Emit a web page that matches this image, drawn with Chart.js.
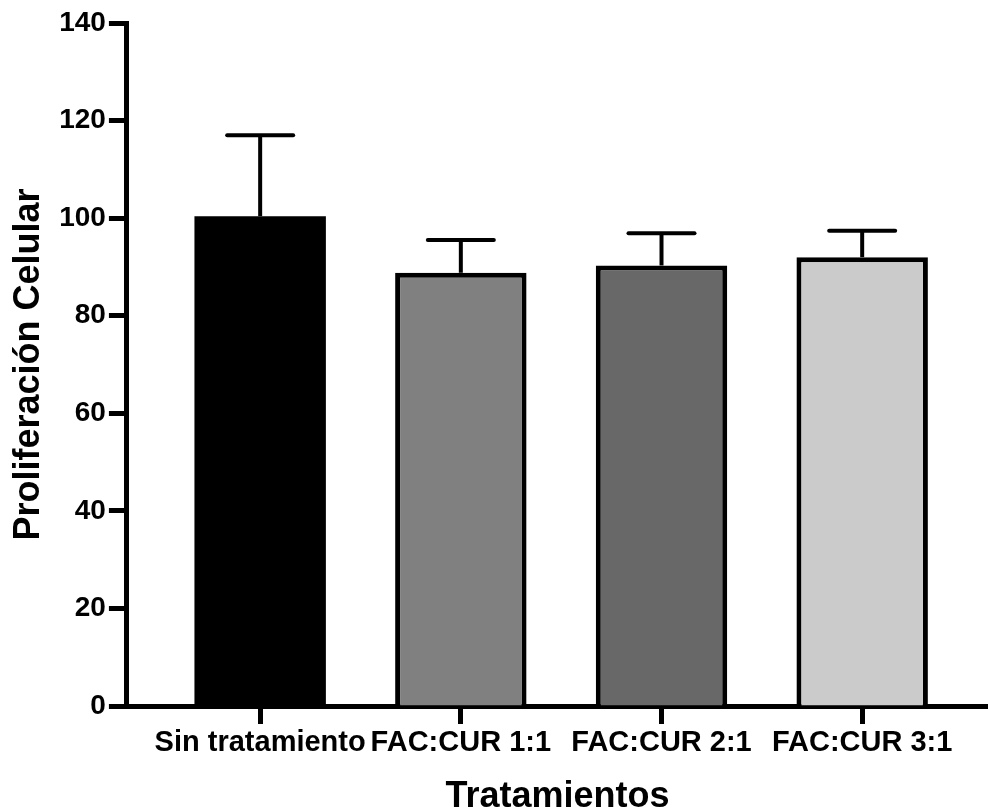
<!DOCTYPE html>
<html>
<head>
<meta charset="utf-8">
<script src="https://cdn.jsdelivr.net/npm/chart.js@4.4.1/dist/chart.umd.min.js"></script>
<style>
  html, body { margin: 0; padding: 0; background: #ffffff; }
  #wrap { width: 988px; height: 810px; }
</style>
</head>
<body>
<div id="wrap"><canvas id="c" width="988" height="810"></canvas></div>
<script>
// ---- data ----
const categories = ["Sin tratamiento", "FAC:CUR 1:1", "FAC:CUR 2:1", "FAC:CUR 3:1"];
const means = [100.4, 88.8, 90.3, 92.0];
const errors = [16.6, 6.7, 6.6, 5.4];
const yTicks = [0, 20, 40, 60, 80, 100, 120, 140];
const barColors = ["#000000", "#808080", "#686868", "#cbcbcb"];
const barBorders = [0, 5, 5, 5];

const FONT = "'Liberation Sans', Arial, Helvetica, sans-serif";

const errorBarPlugin = {
  id: 'errorBars',
  afterDatasetsDraw(chart) {
    const ctx = chart.ctx;
    const xs = chart.scales.x, ys = chart.scales.y;
    ctx.save();
    ctx.strokeStyle = '#000';
    ctx.lineWidth = 4;
    ctx.lineCap = 'butt';
    means.forEach((m, i) => {
      const x = xs.getPixelForValue(i);
      const yBase = ys.getPixelForValue(m);
      const yTop = ys.getPixelForValue(m + errors[i]);
      ctx.beginPath();
      ctx.moveTo(x, yBase);
      ctx.lineTo(x, yTop);
      ctx.stroke();
    });
    ctx.lineCap = 'round';
    means.forEach((m, i) => {
      const x = xs.getPixelForValue(i);
      const yTop = ys.getPixelForValue(m + errors[i]);
      ctx.beginPath();
      ctx.moveTo(x - 33, yTop);
      ctx.lineTo(x + 33, yTop);
      ctx.stroke();
    });
    ctx.restore();
  }
};

new Chart(document.getElementById('c'), {
  type: 'bar',
  data: {
    datasets: [{
      data: means.map((m, i) => ({ x: i, y: m })),
      backgroundColor: barColors,
      borderColor: '#000000',
      borderWidth: barBorders,
      categoryPercentage: 1,
      barPercentage: 0.655
    }]
  },
  options: {
    responsive: false,
    animation: false,
    layout: { padding: { top: 23, right: 0, left: 0, bottom: 0 } },
    plugins: { legend: { display: false }, tooltip: { enabled: false } },
    scales: {
      x: {
        type: 'linear',
        offset: false,
        min: -0.664,
        max: 3.627,
        afterBuildTicks: (s) => { s.ticks = categories.map((_, i) => ({ value: i })); },
        grid: { display: true, offset: false, drawOnChartArea: false, drawTicks: true, tickLength: 18, tickWidth: 5, tickColor: '#000' },
        border: { display: true, width: 5, color: '#000' },
        ticks: {
          autoSkip: false, maxRotation: 0, minRotation: 0, padding: 2,
          color: '#000',
          font: { family: FONT, size: 29, weight: 'bold' },
          callback: (v) => categories[v]
        },
        title: {
          display: true, text: 'Tratamientos', color: '#000',
          font: { family: FONT, size: 36, weight: 'bold', lineHeight: 0.7 },
          padding: { top: 22, bottom: 0 }
        }
      },
      y: {
        min: 0, max: 140,
        afterBuildTicks: (s) => { s.ticks = yTicks.map(v => ({ value: v })); },
        grid: { display: true, drawOnChartArea: false, drawTicks: true, tickLength: 18, tickWidth: 5, tickColor: '#000' },
        border: { display: true, width: 5, color: '#000' },
        ticks: {
          padding: 3, color: '#000',
          font: { family: FONT, size: 28, weight: 'bold' }
        },
        title: {
          display: true, text: 'Proliferación Celular', color: '#000',
          font: { family: FONT, size: 36, weight: 'bold' },
          padding: { top: 7, bottom: 6 }
        }
      }
    }
  },
  plugins: [errorBarPlugin]
});
</script>
</body>
</html>
